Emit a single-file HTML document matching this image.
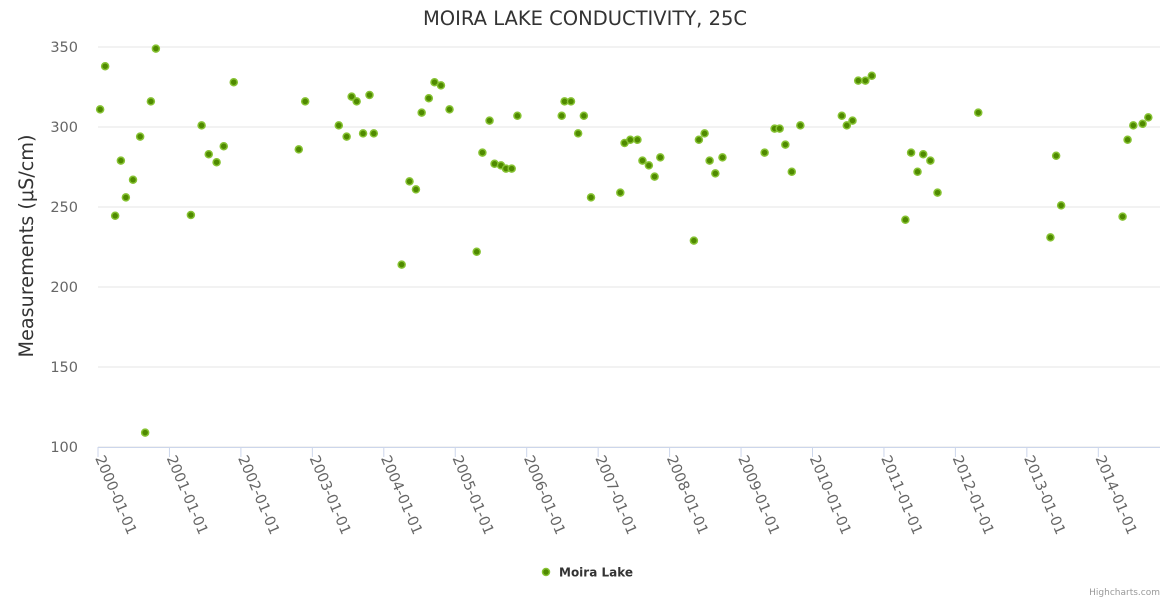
<!DOCTYPE html>
<html><head><meta charset="utf-8"><style>
html,body{margin:0;padding:0;background:#fff;}
svg{display:block;font-family:"DejaVu Sans","Liberation Sans",sans-serif;}
</style></head><body>
<svg id="chart" width="1170" height="600">
<rect width="1170" height="600" fill="#fff"/>
<text x="585" y="25" text-anchor="middle" font-size="19.5" fill="#333">MOIRA LAKE CONDUCTIVITY, 25C</text>
<text transform="translate(33,246) rotate(-90)" text-anchor="middle" font-size="19.2" fill="#333">Measurements (μS/cm)</text>
<g id="grid"></g><g id="xaxis"></g><g id="pts"></g>
<g>
<circle cx="546" cy="572" r="3.5" fill="#4f8a00" stroke="#86c232" stroke-width="1.5"/>
<text x="559" y="576.5" font-size="12" font-weight="bold" fill="#333">Moira Lake</text>
</g>
<text x="1160" y="595" text-anchor="end" font-size="9" fill="#999">Highcharts.com</text>
</svg>
<script>
const yTicks=[100,150,200,250,300,350];
const xYears=[2000,2001,2002,2003,2004,2005,2006,2007,2008,2009,2010,2011,2012,2013,2014];
const dates=[2000.03,2000.10,2000.24,2000.32,2000.39,2000.49,2000.59,2000.66,2000.74,2000.81,2001.30,2001.45,2001.55,2001.66,2001.76,2001.90,2002.81,2002.90,2003.37,2003.48,2003.55,2003.62,2003.71,2003.80,2003.86,2004.25,2004.36,2004.45,2004.53,2004.63,2004.71,2004.80,2004.92,2005.30,2005.38,2005.48,2005.55,2005.64,2005.71,2005.79,2005.87,2006.49,2006.53,2006.62,2006.72,2006.80,2006.90,2007.31,2007.37,2007.45,2007.55,2007.62,2007.71,2007.79,2007.87,2008.34,2008.41,2008.49,2008.56,2008.64,2008.74,2009.33,2009.47,2009.54,2009.62,2009.71,2009.83,2010.41,2010.48,2010.56,2010.64,2010.74,2010.83,2011.30,2011.38,2011.47,2011.55,2011.65,2011.75,2012.32,2013.33,2013.41,2013.48,2014.34,2014.41,2014.49,2014.62,2014.70];
const values=[311,338,244.5,279,256,267,294,109,316,349,245,301,283,278,288,328,286,316,301,294,319,316,296,320,296,214,266,261,309,318,328,326,311,222,284,304,277,276,274,274,307,307,316,316,296,307,256,259,290,292,292,279,276,269,281,229,292,296,279,271,281,284,299,299,289,272,301,307,301,304,329,329,332,242,284,272,283,279,259,309,231,282,251,244,292,301,302,306];
const NS="http://www.w3.org/2000/svg";
const X0=98,X1=1160,Y0=447,Y1=47;
const xs=y=>X0+(y-2000)*71.45;
const ys=v=>Y0-(v-100)*(Y0-Y1)/250;
function mk(tag,attrs,parent){const e=document.createElementNS(NS,tag);for(const k in attrs)e.setAttribute(k,attrs[k]);parent.appendChild(e);return e;}
const grid=document.getElementById('grid');
yTicks.forEach(t=>{
  const l=mk('line',{x1:X0,x2:X1,y1:ys(t),y2:ys(t),stroke:'#e6e6e6'},grid);
  
  
  const tx=mk('text',{x:78,y:ys(t)+5,'text-anchor':'end','font-size':'14.5',fill:'#666'},grid);
  tx.textContent=t;
  
  
});
const xa=document.getElementById('xaxis');
const al=mk('line',{x1:X0,x2:X1,y1:Y0+0.5,y2:Y0+0.5,stroke:'#ccd6eb'},xa);


xYears.forEach(yr=>{
  const x=xs(yr);
  const tk=mk('line',{x1:x,x2:x,y1:Y0,y2:Y0+10,stroke:'#ccd6eb'},xa);
  
  
  const tx=mk('text',{transform:`translate(${x-3},${Y0+11}) rotate(67)`,'font-size':'14.5',fill:'#666'},xa);
  tx.textContent=yr+'-01-01';
  
  
});
const pts=document.getElementById('pts');
dates.forEach((d,i)=>{
  const c=mk('circle',{cx:xs(d),cy:ys(values[i]),r:3.5,fill:'#4f8a00',stroke:'#86c232','stroke-width':1.5},pts);
  
  
});
</script>
</body></html>
